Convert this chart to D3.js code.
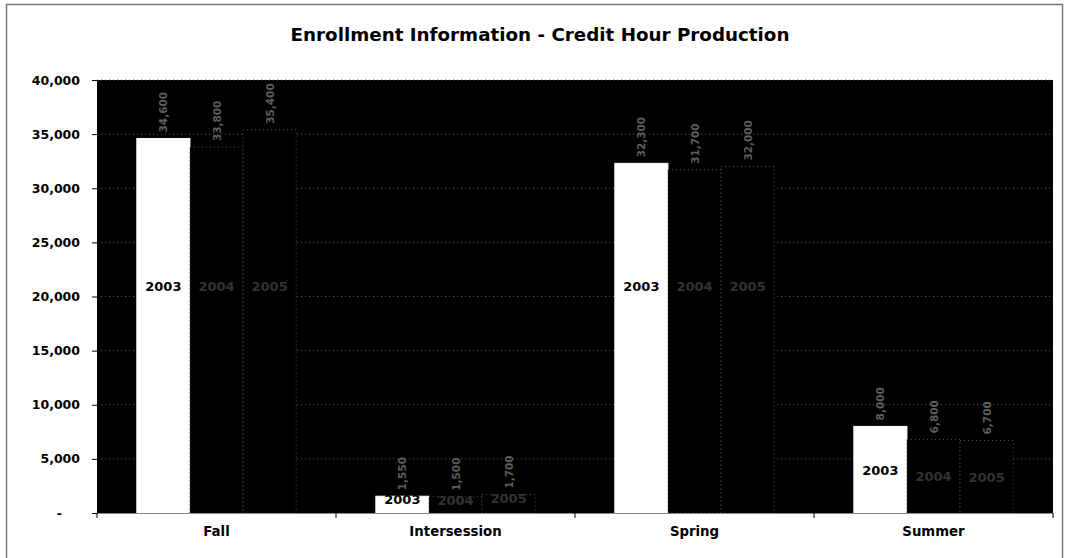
<!DOCTYPE html>
<html>
<head>
<meta charset="utf-8">
<script src="https://cdn.jsdelivr.net/npm/d3@7"></script>
<style>
  body { margin: 0; background: #fff; }
  text { font-family: "DejaVu Sans", Arial, sans-serif; font-weight: bold; }
</style>
</head>
<body>
<div id="chart"></div>
<script>
// data
var terms = ["Fall", "Intersession", "Spring", "Summer"];
var years = ["2003", "2004", "2005"];
var hours2003 = [34600, 1550, 32300, 8000];
var hours2004 = [33800, 1500, 31700, 6800];
var hours2005 = [35400, 1700, 32000, 6700];
var yTicks = [0, 5000, 10000, 15000, 20000, 25000, 30000, 35000, 40000];

var width = 1066;
var height = 558;
var margin = { top: 80, right: 13, bottom: 45, left: 97 };
var font = "'DejaVu Sans', Arial, sans-serif";

var svg = d3.select("#chart")
    .append("svg")
    .attr("width", width)
    .attr("height", height);

// outer frame
svg.append("rect")
    .attr("x", 6.5).attr("y", 4.5)
    .attr("width", 1056).attr("height", 560)
    .attr("fill", "none")
    .attr("stroke", "#777")
    .attr("stroke-width", 1.5);

svg.append("text")
    .attr("x", 540)
    .attr("y", 41)
    .attr("text-anchor", "middle")
    .style("font-size", "18.3px")
    .text("Enrollment Information - Credit Hour Production");

var x0 = d3.scaleBand()
    .domain(terms)
    .range([margin.left, width - margin.right])
    .padding(0);

var x1 = d3.scaleBand()
    .domain(years)
    .range([0, x0.bandwidth()])
    .paddingInner(0)
    .paddingOuter(0.75);

var y = d3.scaleLinear()
    .domain([0, 40000])
    .range([height - margin.bottom, margin.top]);

// black plot area
svg.append("rect")
    .attr("x", margin.left)
    .attr("y", margin.top)
    .attr("width", width - margin.left - margin.right)
    .attr("height", y(0) - margin.top)
    .attr("fill", "#000");

// faint dotted gridlines
svg.append("g")
    .selectAll("line")
    .data(yTicks.slice(1))
    .enter()
    .append("line")
    .attr("x1", margin.left)
    .attr("x2", width - margin.right)
    .attr("y1", d => y(d))
    .attr("y2", d => y(d))
    .attr("stroke", "#5a5a5a")
    .attr("stroke-width", 1)
    .attr("stroke-dasharray", "1,3");

var rows = terms.map((t, i) => ({
    term: t,
    values: [
        { year: "2003", v: hours2003[i] },
        { year: "2004", v: hours2004[i] },
        { year: "2005", v: hours2005[i] }
    ]
}));

var groups = svg.append("g")
    .selectAll("g")
    .data(rows)
    .enter()
    .append("g")
    .attr("transform", d => "translate(" + x0(d.term) + ",0)");

var bars = groups.selectAll("g")
    .data(d => d.values)
    .enter()
    .append("g");

bars.append("rect")
    .attr("x", d => x1(d.year))
    .attr("y", d => y(d.v))
    .attr("width", x1.bandwidth())
    .attr("height", d => y(0) - y(d.v))
    .attr("fill", d => d.year === "2003" ? "#fff" : "#000")
    .attr("stroke", d => d.year === "2003" ? "#fff" : "#555")
    .attr("stroke-width", 1)
    .attr("stroke-dasharray", d => d.year === "2003" ? null : "1,3");

// year labels inside bars (tall bars keep them at the same height)
function labelY(v) {
    if (v > 20000) return y(21000) + 5;
    if (v > 5000) return y(v / 2) + 5;
    return y(v) + 8;
}

bars.append("text")
    .attr("x", d => x1(d.year) + x1.bandwidth() / 2)
    .attr("y", d => labelY(d.v))
    .attr("text-anchor", "middle")
    .style("font-size", "13px")
    .attr("fill", d => d.year === "2003" ? "#000" : "#333")
    .text(d => d.year);

// rotated value labels above the bars, barely visible in the scan
bars.append("text")
    .attr("transform", d => "translate(" + (x1(d.year) + x1.bandwidth() / 2 + 4) + "," + (y(d.v) - 6) + ") rotate(-90)")
    .attr("text-anchor", "start")
    .style("font-size", "10.5px")
    .attr("fill", "#5e5e5e")
    .text(d => d3.format(",")(d.v));

// y axis
var yAxis = d3.axisLeft(y)
    .tickValues(yTicks)
    .tickSize(5)
    .tickFormat(d => d === 0 ? "-" : d3.format(",")(d));

var gy = svg.append("g")
    .attr("transform", "translate(" + margin.left + ",0)")
    .call(yAxis);
gy.select(".domain").attr("stroke", "#000");
gy.selectAll("text")
    .attr("x", d => d === 0 ? -35 : -17)
    .style("font-size", "12.5px")
    .style("font-family", font)
    .style("font-weight", "bold")
    .attr("fill", "#000");

// x axis
var xAxis = d3.axisBottom(x0).tickSize(0).tickPadding(14);
var gx = svg.append("g")
    .attr("transform", "translate(0," + y(0) + ")")
    .call(xAxis);
gx.select(".domain").attr("stroke", "#888");
gx.selectAll("text")
    .style("font-size", "13.3px")
    .style("font-family", font)
    .style("font-weight", "bold")
    .attr("fill", "#000");

// category boundary ticks
svg.append("g")
    .selectAll("line")
    .data(terms.concat(["end"]))
    .enter()
    .append("line")
    .attr("x1", d => d === "end" ? width - margin.right : x0(d))
    .attr("x2", d => d === "end" ? width - margin.right : x0(d))
    .attr("y1", y(0))
    .attr("y2", y(0) + 5)
    .attr("stroke", "#000");
</script>
</body>
</html>
